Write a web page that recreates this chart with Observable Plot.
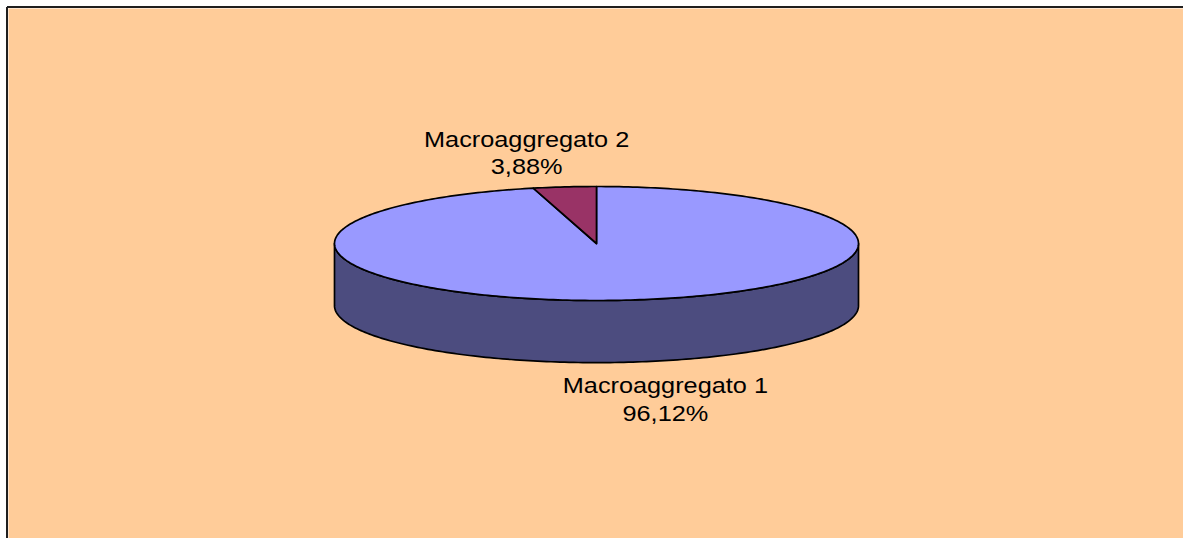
<!DOCTYPE html>
<html><head><meta charset="utf-8">
<script src="https://cdn.jsdelivr.net/npm/d3@7"></script>
<script src="https://cdn.jsdelivr.net/npm/@observablehq/plot@0.6"></script>
<style>html,body{margin:0;background:#fff;overflow:hidden} #chart svg{display:block}</style>
</head><body><div id="chart"></div>
<script>
// ---- data ----
const categories = ["Macroaggregato 1", "Macroaggregato 2"];
const shares = [96.12, 3.88];
const colors = ["#9999FF", "#993366"];

// ---- geometry (unit ellipse, y grows downward) ----
const depth = 1.09; // thickness in units of the vertical radius
const total = d3.sum(shares);
let acc = 0;
const slices = categories.map((name, i) => {
  const a0 = acc / total * 2 * Math.PI; acc += shares[i];
  const a1 = acc / total * 2 * Math.PI;
  return {name, value: shares[i], a0, a1, mid: (a0 + a1) / 2, color: colors[i],
          side: d3.color(colors[i]).darker(1.95).formatHex()};
});
const rim = (a, drop = 0) => ({x: Math.sin(a), y: -Math.cos(a) + drop});
const arc = (a0, a1, drop = 0) => {
  const n = Math.max(2, Math.ceil((a1 - a0) / (Math.PI / 180)));
  return d3.range(n + 1).map(k => rim(a0 + (a1 - a0) * k / n, drop));
};
const topFaces = slices.flatMap(s =>
  [{x: 0, y: 0}, ...arc(s.a0, s.a1), {x: 0, y: 0}].map(p => ({...p, name: s.name, fill: s.color})));
const sides = slices.flatMap(s => {
  const b0 = Math.max(s.a0, Math.PI / 2), b1 = Math.min(s.a1, 3 * Math.PI / 2);
  if (b1 <= b0) return [];
  const pts = [...arc(b0, b1), ...arc(b0, b1, depth).reverse()];
  pts.push(pts[0]);
  return pts.map(p => ({...p, name: s.name, fill: s.side}));
});
const labels = slices.map(s => {
  const front = Math.cos(s.mid) < 0;
  const p = rim(s.mid, front ? depth : 0);
  return {...p, front, text: `${s.name}\n${s.value.toFixed(2).replace(".", ",")}%`};
});

const W = 1183, H = 538;
const plot = Plot.plot({
  width: W, height: H,
  marginTop: 8, marginLeft: 8, marginRight: 0, marginBottom: 0,
  x: {domain: [-1, 1], range: [334, 858], axis: null},
  y: {domain: [-1, 1], range: [186, 300], axis: null},
  color: {type: "identity"},
  style: {background: "white", overflow: "hidden", fontFamily: "'Liberation Sans', Arial, sans-serif"},
  marks: [
    Plot.frame({fill: "#FFCC99", stroke: "none", insetRight: -20, insetBottom: -20}),
    Plot.line(sides, {x: "x", y: "y", z: "name", fill: "fill", stroke: "black", strokeWidth: 1.7, strokeLinejoin: "round"}),
    Plot.line(topFaces, {x: "x", y: "y", z: "name", fill: "fill", stroke: "black", strokeWidth: 1.7, strokeLinejoin: "round"}),
    Plot.text(labels.filter(d => !d.front), {x: "x", y: "y", text: "text", dx: -38, dy: -35, fontSize: 22, lineHeight: 1.2, fill: "black"}),
    Plot.text(labels.filter(d => d.front), {x: "x", y: "y", text: "text", dx: 37, dy: 36, fontSize: 22, lineHeight: 1.25, fill: "black"})
  ]
});
// chart-area border: only the top and left edges are inside the picture
const border = d3.select(plot).insert("g", 'g[aria-label="line"]').attr("stroke", "#1f1f1f").attr("stroke-width", 2);
border.append("line").attr("x1", 7).attr("y1", 7).attr("x2", W + 10).attr("y2", 7);
border.append("line").attr("x1", 7).attr("y1", 7).attr("x2", 7).attr("y2", H + 10);
plot.querySelectorAll('g[aria-label="text"] text').forEach(t =>
  t.setAttribute("transform", (t.getAttribute("transform") || "") + " scale(1.15,1)"));
document.getElementById("chart").appendChild(plot);
</script>
</body></html>
